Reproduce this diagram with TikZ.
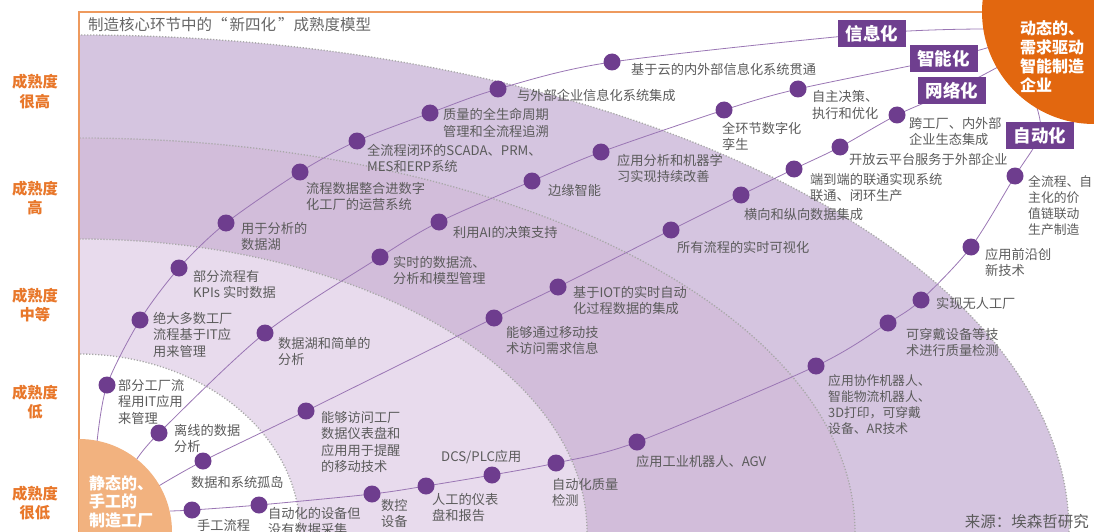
\documentclass[tikz,border=0pt]{standalone}
\usepackage{fontspec}
\setmainfont{Noto Sans CJK SC}
\pgfdeclarelayer{bands}
\pgfdeclarelayer{links}
\pgfsetlayers{bands,links,main}
\definecolor{dotc}{HTML}{6E3D8E}
\definecolor{linec}{HTML}{9A76B4}
\definecolor{boxc}{HTML}{6F3F8F}
\definecolor{bandfour}{HTML}{D5C5E0}
\definecolor{bandthree}{HTML}{D2BDDA}
\definecolor{bandtwo}{HTML}{E8DBED}
\definecolor{orglight}{HTML}{F2B27F}
\definecolor{orgdark}{HTML}{E2670F}
\definecolor{lvlc}{HTML}{E8772A}
\definecolor{framec}{HTML}{EE9A5E}
\definecolor{txt}{HTML}{5B5B5B}
\definecolor{dotgray}{HTML}{A8A8A8}
\tikzset{
 dot/.style={circle, fill=dotc, minimum size=17pt, inner sep=0pt},
 lab/.style={anchor=base west, inner sep=0pt, align=left, text=txt, font=\fontsize{13.2}{16.6}\selectfont},
 labs/.style={lab, font=\fontsize{12.8}{16}\selectfont},
 lvl/.style={anchor=base, inner sep=0pt, align=center, text=lvlc, font=\bfseries\fontsize{15.3}{19.5}\selectfont},
 tag/.style={fill=boxc, text=white, font=\bfseries\fontsize{17.5}{20}\selectfont, minimum width=68pt, minimum height=27pt, inner sep=0pt},
 conn/.style={draw=linec, line width=0.8pt},
 zone/.style={draw=dotgray, line width=1.3pt, dash pattern=on 1.2pt off 1.8pt},
 whitetxt/.style={anchor=base west, inner sep=0pt, align=left, text=white, font=\bfseries\fontsize{16}{18.8}\selectfont},
}
\begin{document}
\begin{tikzpicture}[x=1pt,y=-1pt]
\useasboundingbox (0,0) rectangle (1094,532);
% bands
\begin{pgfonlayer}{bands}
\begin{scope}
\clip (79,0) rectangle (1094,532);
\fill[bandfour] (79,532) ellipse [x radius=990pt, y radius=497pt];
\fill[bandthree] (79,532) ellipse [x radius=776pt, y radius=394pt];
\fill[bandtwo] (79,532) ellipse [x radius=508pt, y radius=293pt];
\fill[white] (79,532) ellipse [x radius=221pt, y radius=178pt];
\draw[zone] (79,532) ellipse [x radius=990pt, y radius=497pt];
\draw[zone] (79,532) ellipse [x radius=776pt, y radius=394pt];
\draw[zone] (79,532) ellipse [x radius=508pt, y radius=293pt];
\draw[zone] (79,532) ellipse [x radius=221pt, y radius=178pt];
\end{scope}
\end{pgfonlayer}
% frame
\draw[framec, line width=1.6pt] (79,532) -- (79,12) -- (1000,12);
% title
\node[anchor=base west, inner sep=0pt, text=black!60, font=\fontsize{15.5}{18}\selectfont] (title) at (88,31) {制造核心环节中的“\hspace{2pt}新四化\hspace{2pt}”成熟度模型};
% level labels (anchor = baseline of last line)
\node[lvl] (lv1) at (35,107.5) {成熟度\\很高};
\node[lvl] (lv2) at (35,213.5) {成熟度\\高};
\node[lvl] (lv3) at (35,320.5) {成熟度\\中等};
\node[lvl] (lv4) at (35,417.5) {成熟度\\低};
\node[lvl] (lv5) at (35,518.5) {成熟度\\很低};
% end circles
\begin{scope}
\clip (79,0) rectangle (1094,532);
\node[circle, fill=orglight, minimum size=186pt, inner sep=0pt] (stat) at (79,532) {};
\end{scope}
\node[whitetxt] (stattxt) at (89,526.6) {静态的、\\手工的\\制造工厂};
\node[circle, fill=orgdark, minimum size=224pt, inner sep=0pt] (dyn) at (1094,12) {};
\node[whitetxt] (dyntxt) at (1020,91.4) {动态的、\\需求驱动\\智能制造\\企业};
% start / end points
\coordinate (s1) at (97,442);
\coordinate (s2) at (135,462);
\coordinate (s3) at (157,487);
\coordinate (s4) at (170,511);
\coordinate (e1) at (984,29);
\coordinate (e2) at (990,47);
\coordinate (e3) at (998,67);
\coordinate (e4) at (1037,108);
% tags
\node[tag] (t1) at (872,33.5) {信息化};
\node[tag] (t2) at (943.5,59) {智能化};
\node[tag] (t3) at (952,91) {网络化};
\node[tag] (t4) at (1040,135.5) {自动化};
% curve 1 dots
\node[dot] (d11) at (107,385) {};
\node[dot] (d12) at (140,320) {};
\node[dot] (d13) at (179,268) {};
\node[dot] (d14) at (226,223) {};
\node[dot] (d15) at (300,172) {};
\node[dot] (d16) at (357,141) {};
\node[dot] (d17) at (430,113) {};
\node[dot] (d18) at (498,89) {};
\node[dot] (d19) at (612,62) {};
% curve 2 dots
\node[dot] (d21) at (159,433) {};
\node[dot] (d22) at (265,333) {};
\node[dot] (d23) at (380,257) {};
\node[dot] (d24) at (439,222) {};
\node[dot] (d25) at (532,181) {};
\node[dot] (d26) at (601,152) {};
\node[dot] (d27) at (724,110) {};
\node[dot] (d28) at (798,89) {};
% curve 3 dots
\node[dot] (d31) at (203,461) {};
\node[dot] (d32) at (306,411) {};
\node[dot] (d33) at (494,318) {};
\node[dot] (d34) at (558,287) {};
\node[dot] (d35) at (671,230) {};
\node[dot] (d36) at (741,195) {};
\node[dot] (d37) at (794,169) {};
\node[dot] (d38) at (840,147) {};
\node[dot] (d39) at (897,115) {};
% curve 4 dots
\node[dot] (d41) at (192,510) {};
\node[dot] (d42) at (259,505) {};
\node[dot] (d43) at (372,494) {};
\node[dot] (d44) at (426,486) {};
\node[dot] (d45) at (492,475) {};
\node[dot] (d46) at (556,463) {};
\node[dot] (d47) at (637,442) {};
\node[dot] (d48) at (816,366) {};
\node[dot] (d49) at (888,323) {};
\node[dot] (d4a) at (921,300) {};
\node[dot] (d4b) at (971,247) {};
\node[dot] (d4c) at (1015,176) {};
% labels curve 1 (anchor = baseline of last line)
\node[lab] (l11) at (118,423.2) {部分工厂流\\程用IT应用\\来管理};
\node[lab] (l12) at (153,356.2) {绝大多数工厂\\流程基于IT应\\用来管理};
\node[lab] (l13) at (193,297.6) {部分流程有\\KPIs 实时数据};
\node[lab] (l14) at (241,249.6) {用于分析的\\数据湖};
\node[lab] (l15) at (306,209.6) {流程数据整合进数字\\化工厂的运营系统};
\node[lab] (l16) at (367,171.6) {全流程闭环的SCADA、PRM、\\MES和ERP系统};
\node[lab] (l17) at (443,136.6) {质量的全生命周期\\管理和全流程追溯};
\node[lab] (l18) at (517,101) {与外部企业信息化系统集成};
\node[lab] (l19) at (631,75) {基于云的内外部信息化系统贯通};
% labels curve 2
\node[lab] (l21) at (174,451.6) {离线的数据\\分析};
\node[lab] (l22) at (278,364.6) {数据湖和简单的\\分析};
\node[lab] (l23) at (393,283.6) {实时的数据流、\\分析和模型管理};
\node[lab] (l24) at (453,237) {利用AI的决策支持};
\node[lab] (l25) at (548,195) {边缘智能};
\node[lab] (l26) at (617,181.6) {应用分析和机器学\\习实现持续改善};
\node[lab] (l27) at (722,149.6) {全环节数字化\\孪生};
\node[lab] (l28) at (812,118.6) {自主决策、\\执行和优化};
% labels curve 3
\node[lab] (l31) at (191,487) {数据和系统孤岛};
\node[lab] (l32) at (321,471.8) {能够访问工厂\\数据仪表盘和\\应用用于提醒\\的移动技术};
\node[lab] (l33) at (506,353.6) {能够通过移动技\\术访问需求信息};
\node[lab] (l34) at (573,313.6) {基于IOT的实时自动\\化过程数据的集成};
\node[lab] (l35) at (677,252) {所有流程的实时可视化};
\node[lab] (l36) at (744,219) {横向和纵向数据集成};
\node[lab] (l37) at (810,200.6) {端到端的联通实现系统\\联通、闭环生产};
\node[lab] (l38) at (849,164) {开放云平台服务于外部企业};
\node[lab] (l39) at (909,144.6) {跨工厂、内外部\\企业生态集成};
% labels curve 4
\node[lab] (l41) at (197,530) {手工流程};
\node[lab] (l42) at (268,534.6) {自动化的设备但\\没有数据采集};
\node[lab] (l43) at (381,526.6) {数控\\设备};
\node[lab] (l44) at (432,520.6) {人工的仪表\\盘和报告};
\node[lab] (l45) at (441,461) {DCS/PLC应用};
\node[lab] (l46) at (552,505.6) {自动化质量\\检测};
\node[lab] (l47) at (636,466) {应用工业机器人、AGV};
\node[labs] (l48) at (828,433) {应用协作机器人、\\智能物流机器人、\\3D打印，可穿戴\\设备、AR技术};
\node[lab] (l49) at (906,355.6) {可穿戴设备等技\\术进行质量检测};
\node[lab] (l4a) at (936,308) {实现无人工厂};
\node[lab] (l4b) at (985,275.6) {应用前沿创\\新技术};
\node[labs] (l4c) at (1028,234) {全流程、自\\主化的价\\值链联动\\生产制造};
% source
\node[anchor=base east, inner sep=0pt, text=txt, font=\fontsize{15.5}{18}\selectfont] (src) at (1089,527) {来源：埃森哲研究};
% connectors
\begin{pgfonlayer}{links}
\draw[conn] plot[smooth] coordinates {(s1) (d11.center) (d12.center) (d13.center) (d14.center) (d15.center) (d16.center) (d17.center) (d18.center) (d19.center) (t1.center) (e1)};
\draw[conn] plot[smooth] coordinates {(s2) (d21.center) (d22.center) (d23.center) (d24.center) (d25.center) (d26.center) (d27.center) (d28.center) (t2.center) (e2)};
\draw[conn] plot[smooth] coordinates {(s3) (d31.center) (d32.center) (d33.center) (d34.center) (d35.center) (d36.center) (d37.center) (d38.center) (d39.center) (t3.center) (e3)};
\draw[conn] plot[smooth] coordinates {(s4) (d41.center) (d42.center) (d43.center) (d44.center) (d45.center) (d46.center) (d47.center) (d48.center) (d49.center) (d4a.center) (d4b.center) (d4c.center) (t4.center) (e4)};
\end{pgfonlayer}
\end{tikzpicture}
\end{document}
